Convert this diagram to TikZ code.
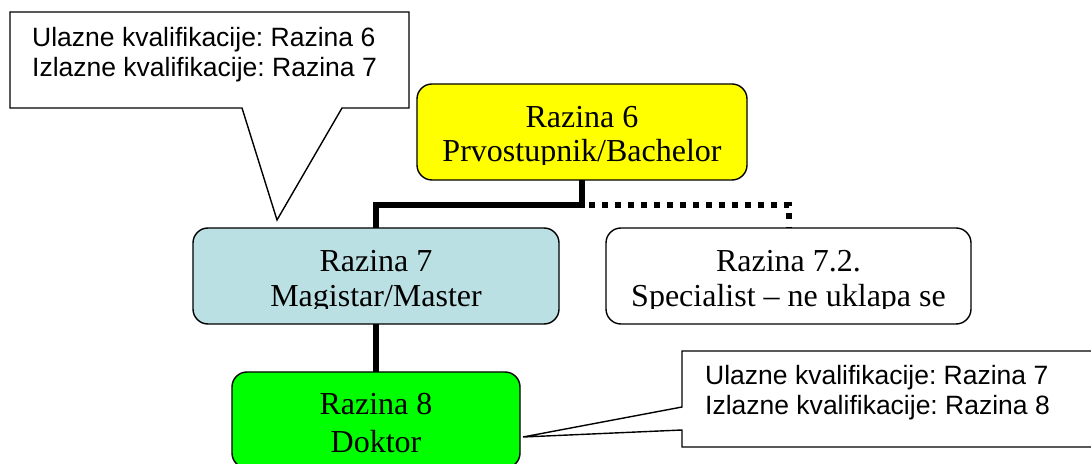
\documentclass[tikz,border=0pt]{standalone}
\usepackage{fontspec}
\setmainfont{Liberation Serif}
\newfontfamily\arialf{Liberation Sans}
\definecolor{lvlyellow}{RGB}{255,255,0}
\definecolor{lvlblue}{RGB}{187,224,227}
\definecolor{lvlgreen}{RGB}{0,255,0}
\frenchspacing
\begin{document}
\begin{tikzpicture}[x=1bp,y=-1bp,
  lvlbox/.style={draw=black, line width=1.4bp, rounded corners=15bp,
    minimum height=96bp, inner sep=0pt, outer sep=0pt},
  serifline/.style={anchor=base, inner sep=0pt, font=\fontsize{32bp}{35bp}\selectfont},
  sansline/.style={anchor=base west, inner sep=0pt, font=\arialf\fontsize{26.5bp}{30bp}\selectfont},
  conn/.style={line width=6bp, draw=black},
  dotconn/.style={conn, dash pattern=on 6bp off 7bp},
  calloutshape/.style={draw=black, fill=white, line width=1.4bp, line join=miter}
]
\useasboundingbox (0,0) rectangle (1091,464);
\clip (0,0) rectangle (1091,464);

% boxes
\node[lvlbox, fill=lvlyellow, minimum width=330bp] (yel) at (582,132) {};
\node[lvlbox, fill=lvlblue, minimum width=366bp] (mag) at (376,276) {};
\node[lvlbox, fill=white, minimum width=365bp] (spec) at (788.5,276) {};
\node[lvlbox, fill=lvlgreen, minimum width=288bp] (dok) at (376,420) {};

% box texts (descenders clipped as in the reference)
\begin{scope}
  \clip (0,0) rectangle (1091,165);
  \node[serifline] (yelA) at (582,128) {Razina 6};
  \node[serifline] (yelB) at (582,162) {Prvostupnik/Bachelor};
\end{scope}
\begin{scope}
  \clip (0,0) rectangle (1091,309);
  \node[serifline] (magA) at (376,272) {Razina 7};
  \node[serifline] (magB) at (376,307) {Magistar/Master};
  \node[serifline] (specA) at (788.5,272) {Razina 7.2.};
  \node[serifline] (specB) at (788.5,307) {Specialist -- ne uklapa se};
\end{scope}
\node[serifline] (dokA) at (376,415) {Razina 8};
\node[serifline] (dokB) at (376,452) {Doktor};

% connectors
\draw[conn] (yel.south) -- ++(0,25) coordinate (j) -| (mag.north);
\draw[dotconn] ([xshift=7bp]j) -| (spec.north);
\draw[conn] (mag.south) -- (dok.north);

% top callout
\draw[calloutshape] (10,12) -- (409,12) -- (409,108) -- (342,108) -- (277,220)
  -- (242,108) -- (10,108) -- cycle;
\node[sansline] (c1a) at (32,47) {Ulazne kvalifikacije: Razina 6};
\node[sansline] (c1b) at (32,77) {Izlazne kvalifikacije: Razina 7};

% bottom callout
\draw[calloutshape] (1100,351) -- (682,351) -- (682,407) -- (523,437)
  -- (682,430) -- (682,447) -- (1100,447);
\node[sansline] (c2a) at (705,385) {Ulazne kvalifikacije: Razina 7};
\node[sansline] (c2b) at (705,415) {Izlazne kvalifikacije: Razina 8};
\end{tikzpicture}
\end{document}
